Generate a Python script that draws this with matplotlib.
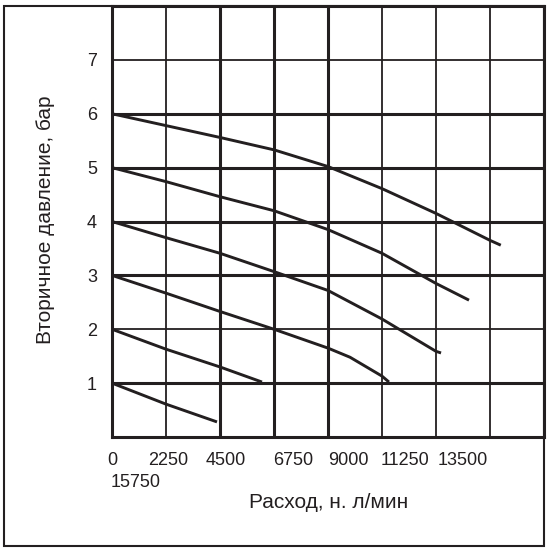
import matplotlib
matplotlib.use('Agg')
import matplotlib.pyplot as plt
from matplotlib.patches import Rectangle

plt.rcParams['font.family'] = ['Liberation Sans', 'DejaVu Sans']

# ----------------------------------------------------------------
# Данные: расход (н. л/мин) и вторичное давление (бар)
# ----------------------------------------------------------------
flow_6 = [0, 2250, 4500, 6750, 9000, 11250, 13500, 15750, 16200]
pres_6 = [6.0, 5.78, 5.56, 5.33, 5.02, 4.61, 4.15, 3.65, 3.56]

flow_5 = [0, 2250, 4500, 6750, 9000, 11250, 13500, 14875]
pres_5 = [5.0, 4.74, 4.46, 4.20, 3.85, 3.41, 2.85, 2.54]

flow_4 = [0, 2250, 4500, 6750, 9000, 11250, 13500, 13710]
pres_4 = [4.0, 3.70, 3.41, 3.07, 2.72, 2.19, 1.59, 1.56]

flow_3 = [0, 2250, 4500, 6750, 9000, 9920, 11250, 11540]
pres_3 = [3.0, 2.67, 2.33, 2.0, 1.65, 1.48, 1.13, 1.02]

flow_2 = [0, 2250, 4500, 6250]
pres_2 = [2.0, 1.63, 1.30, 1.02]

flow_1 = [0, 2250, 4375]
pres_1 = [1.0, 0.61, 0.28]

xtick_labels = ['0', '2250', '4500', '6750', '9000', '11250', '13500', '15750']
ytick_values = [1, 2, 3, 4, 5, 6, 7]

# ----------------------------------------------------------------
# Оформление
# ----------------------------------------------------------------
ink = '#231f20'
W, H = 549, 552
thick, thin = 2.2, 1.3

fig = plt.figure(figsize=(W / 100, H / 100), dpi=100)
ax = fig.add_axes([112 / W, 115 / H, 432 / W, 431 / H])
ax.set_xlim(0, 18000)
ax.set_ylim(0, 8)

# сетка: часть линий толще
x_grid = [2250, 4500, 6750, 9000, 11250, 13500, 15750]
x_grid_lw = [thin, thick, thick, thick, thin, thin, thin]
for xv, lw in zip(x_grid, x_grid_lw):
    ax.axvline(xv, color=ink, lw=lw, zorder=1)
y_grid = [1, 2, 3, 4, 5, 6, 7]
y_grid_lw = [thick, thin, thick, thick, thick, thick, thin]
for yv, lw in zip(y_grid, y_grid_lw):
    ax.axhline(yv, color=ink, lw=lw, zorder=1)

for s in ax.spines.values():
    s.set_linewidth(thick)
    s.set_color(ink)

curves = [(flow_6, pres_6), (flow_5, pres_5), (flow_4, pres_4),
          (flow_3, pres_3), (flow_2, pres_2), (flow_1, pres_1)]
for fx, py in curves:
    ax.plot(fx, py, color=ink, lw=2.1, solid_capstyle='butt',
            solid_joinstyle='round', zorder=3)

ax.set_xticks(x_grid)
ax.tick_params(axis='x', length=0, labelbottom=False)
ax.set_yticks(ytick_values)
ax.set_yticklabels([str(v) for v in ytick_values])
ax.tick_params(axis='y', length=0, pad=10.8, labelsize=13, labelcolor=ink)

# подписи оси X идут строкой, как в исходнике (последняя перенесена)
label_px = [112.5, 168, 226, 293.5, 348, 405.5, 462.5, 135.5]
label_base = [465, 465, 465, 465, 465, 465, 465, 487]
for txt, px, pb in zip(xtick_labels, label_px, label_base):
    fig.text(px / W, (H - pb) / H, txt, ha='center', va='baseline',
             fontsize=13, color=ink)

fig.text(329 / W, (H - 508) / H, 'Расход, н. л/мин', ha='center',
         va='baseline', fontsize=15, color=ink)
fig.text(46 / W, (H - 220) / H, 'Вторичное давление, бар', rotation=90,
         ha='center', va='center', fontsize=15, color=ink)

# рамка вокруг рисунка
fig.patches.append(Rectangle((3.5 / W, 6 / H), 540.5 / W, 540 / H,
                             transform=fig.transFigure, fill=False,
                             lw=1.5, ec=ink))

fig.savefig('out.png', dpi=100)
plt.close(fig)
